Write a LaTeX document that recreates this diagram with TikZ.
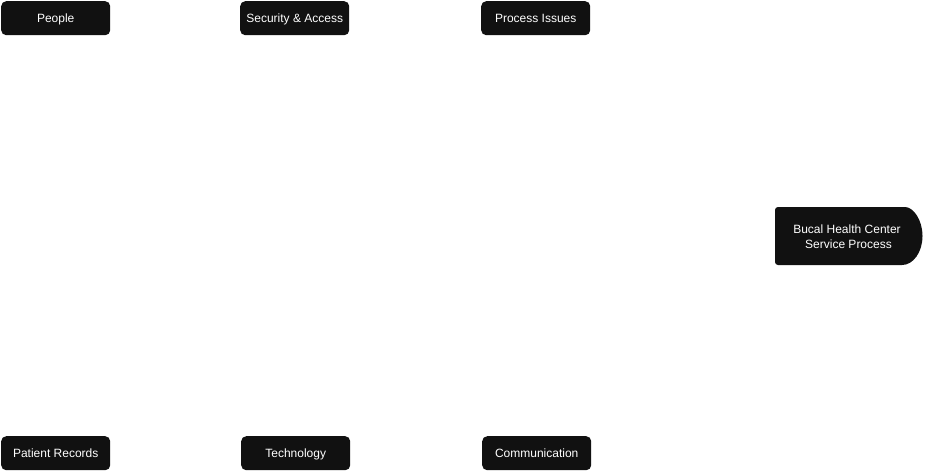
\documentclass[tikz,border=0pt]{standalone}
\usepackage{fontspec}
\setmainfont{Liberation Sans}
\definecolor{boxfill}{HTML}{111111}
\tikzset{
  catbox/.style={fill=boxfill, rounded corners=5pt, minimum width=109pt, minimum height=34pt, inner sep=0pt, text height=9.4pt, text depth=1.6pt, text=white, font=\fontsize{12}{14}\selectfont, anchor=north west},
  headtext/.style={text=white, font=\fontsize{12}{15}\selectfont, align=center, inner sep=0pt}
}
\begin{document}
\begin{tikzpicture}[x=1pt,y=-1pt]
\useasboundingbox (0,0) rectangle (925,472);
\node[catbox] (people) at (1,1) {People};
\node[catbox] (security) at (240,1) {Security \& Access};
\node[catbox] (process) at (481,1) {Process Issues};
\node[catbox] (records) at (1,436) {Patient Records};
\node[catbox] (tech) at (241,436) {Technology};
\node[catbox] (comm) at (482,436) {Communication};
\fill[boxfill] (902,265) [rounded corners=3pt] -- (775,265) -- (775,207) -- (902,207) [sharp corners] arc[start angle=-90, end angle=90, x radius=20.5, y radius=29] -- cycle;
\node[headtext] (head) at (847,237) {Bucal Health Center\\\hspace*{3pt}Service Process};
\end{tikzpicture}
\end{document}
